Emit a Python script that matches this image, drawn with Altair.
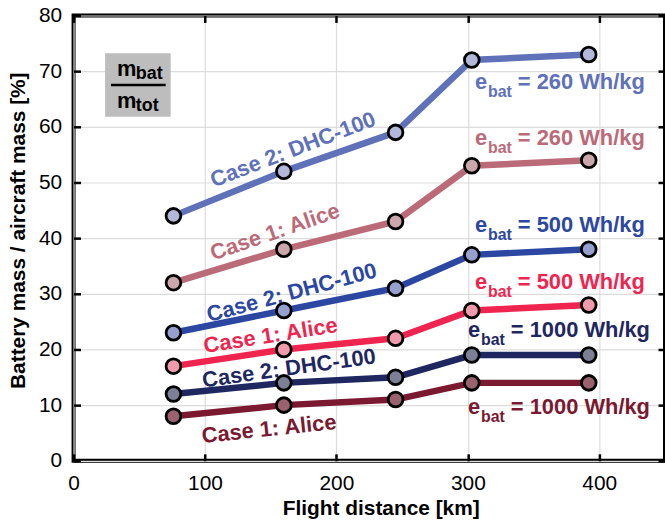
import altair as alt
import pandas as pd

# ---------------- data ----------------
distance_km = [76, 160, 245, 303, 392]

series_names = ["Case 2 260", "Case 1 260", "Case 2 500",
                "Case 1 500", "Case 2 1000", "Case 1 1000"]
case2_260 = [44, 52, 59, 72, 73]
case1_260 = [32, 38, 43, 53, 54]
case2_500 = [23, 27, 31, 37, 38]
case1_500 = [17, 20, 22, 27, 28]
case2_1000 = [12, 14, 15, 19, 19]
case1_1000 = [8, 10, 11, 14, 14]
series_values = [case2_260, case1_260, case2_500, case1_500, case2_1000, case1_1000]

line_colors = ["#5e71b9", "#bb6a78", "#2c47a2", "#ef2550", "#1f2760", "#7a1930"]
fill_colors = ["#b3b8da", "#cba6ab", "#95a0cf", "#f19aab", "#7b8097", "#9a626c"]

x_ticks = [0, 100, 200, 300, 400]
y_ticks = [0, 10, 20, 30, 40, 50, 60, 70, 80]

# case labels along the lines
case_text = ["Case 2: DHC-100", "Case 1: Alice", "Case 2: DHC-100",
             "Case 1: Alice", "Case 2: DHC-100", "Case 1: Alice"]
case_x = [166.9, 153.3, 166.0, 149.9, 163.9, 148.7]
case_y = [55.9, 41.1, 30.2, 22.5, 16.6, 5.7]
case_angle = [339, 341, 345, 351, 352, 354]

# energy-density labels on the right
ebat_text = ["= 260 Wh/kg", "= 260 Wh/kg", "= 500 Wh/kg",
             "= 500 Wh/kg", "= 1000 Wh/kg", "= 1000 Wh/kg"]
ebat_x = [305.5, 305.5, 305.5, 305.5, 300.2, 300.2]
ebat_y = [66.8, 56.8, 41.1, 30.9, 22.3, 8.4]

# fraction box annotation (data coordinates)
box_x = [24.0]
box_x2 = [73.9]
box_y = [73.2]
box_y2 = [61.8]
frac_x = [28.5]
frac_x2 = [70.1]
frac_y = [67.5]
m_x = [33.0, 33.0]
m_y = [69.1, 63.4]
m_sub = ["bat", "tot"]

FONT = "Liberation Sans"

# ---------------- tables ----------------
rows = []
for name, vals in zip(series_names, series_values):
    for d, v in zip(distance_km, vals):
        rows.append({"series": name, "distance": d, "share": v})
df = pd.DataFrame(rows)

case_df = pd.DataFrame({"text": case_text, "x": case_x, "y": case_y,
                        "angle": case_angle, "color": line_colors})
ebat_df = pd.DataFrame({"text": ebat_text, "x": ebat_x, "y": ebat_y,
                        "color": line_colors})
box_df = pd.DataFrame({"x": box_x, "x2": box_x2, "y": box_y, "y2": box_y2})
frac_df = pd.DataFrame({"x": frac_x, "x2": frac_x2, "y": frac_y})
m_df = pd.DataFrame({"x": m_x, "y": m_y, "sub": m_sub})

x_scale = alt.Scale(domain=[0, 450], nice=False, zero=False)
y_scale = alt.Scale(domain=[0, 80], nice=False, zero=False)

bottom_axis = alt.Axis(
    orient="bottom", values=x_ticks, offset=-7, domain=False,
    ticks=True, tickSize=7, tickWidth=2.5, tickColor="black",
    labelFont=FONT, labelFontSize=21, labelColor="black", labelPadding=12,
    labelFlush=False,
    title="Flight distance [km]", titleFont=FONT, titleFontSize=21,
    titleFontWeight="bold", titleColor="black", titlePadding=4, titleX=309,
    grid=True, gridColor="#dcdcdc", gridWidth=1.2,
)
left_axis = alt.Axis(
    orient="left", values=y_ticks, offset=-7, domain=False,
    ticks=True, tickSize=7, tickWidth=2.5, tickColor="black",
    labelFont=FONT, labelFontSize=21, labelColor="black", labelPadding=12,
    labelFlush=False,
    title="Battery mass / aircraft mass [%]", titleFont=FONT, titleFontSize=21,
    titleFontWeight="bold", titleColor="black", titlePadding=10, titleY=216,
    grid=True, gridColor="#dcdcdc", gridWidth=1.2,
)
top_axis = alt.Axis(
    orient="top", values=x_ticks, offset=-7, domain=False,
    ticks=True, tickSize=7, tickWidth=2.5, tickColor="black",
    labels=False, grid=False, title=None,
)
right_axis = alt.Axis(
    orient="right", values=y_ticks, offset=-7, domain=False,
    ticks=True, tickSize=7, tickWidth=2.5, tickColor="black",
    labels=False, grid=False, title=None,
)

lines = alt.Chart(df).mark_line(strokeWidth=6.5).encode(
    x=alt.X("distance:Q", scale=x_scale, axis=bottom_axis),
    y=alt.Y("share:Q", scale=y_scale, axis=left_axis),
    stroke=alt.Stroke("series:N", scale=alt.Scale(domain=series_names, range=line_colors),
                      legend=None),
)

points = alt.Chart(df).mark_circle(size=220, stroke="black", strokeWidth=2.8, opacity=1).encode(
    x=alt.X("distance:Q", scale=x_scale, axis=top_axis),
    y=alt.Y("share:Q", scale=y_scale, axis=right_axis),
    fill=alt.Fill("series:N", scale=alt.Scale(domain=series_names, range=fill_colors),
                  legend=None),
)

case_labels = alt.Chart(case_df).mark_text(
    font=FONT, fontSize=22, fontWeight="bold", align="center", baseline="middle"
).encode(
    x=alt.X("x:Q", scale=x_scale, axis=None),
    y=alt.Y("y:Q", scale=y_scale, axis=None),
    text="text:N",
    angle=alt.Angle("angle:Q", scale=None),
    color=alt.Color("color:N", scale=None),
)

def ebat_layer(text_value, dx, dy, size, use_field=False):
    enc = dict(
        x=alt.X("x:Q", scale=x_scale, axis=None),
        y=alt.Y("y:Q", scale=y_scale, axis=None),
        color=alt.Color("color:N", scale=None),
    )
    if use_field:
        enc["text"] = alt.Text("text:N")
    else:
        enc["text"] = alt.value(text_value)
    return alt.Chart(ebat_df).mark_text(
        font=FONT, fontSize=size, fontWeight="bold", align="left",
        baseline="alphabetic", dx=dx, dy=dy
    ).encode(**enc)

e_main = ebat_layer("e", 0, 0, 22)
e_sub = ebat_layer("bat", 13, 8, 16)
e_rest = ebat_layer("", 43, 0, 22, use_field=True)

box = alt.Chart(box_df).mark_rect(color="#bdbdbd").encode(
    x=alt.X("x:Q", scale=x_scale, axis=None),
    x2="x2:Q",
    y=alt.Y("y:Q", scale=y_scale, axis=None),
    y2="y2:Q",
)
frac = alt.Chart(frac_df).mark_rule(color="black", strokeWidth=2.5).encode(
    x=alt.X("x:Q", scale=x_scale, axis=None),
    x2="x2:Q",
    y=alt.Y("y:Q", scale=y_scale, axis=None),
)
m_text = alt.Chart(m_df).mark_text(
    font=FONT, fontSize=22, fontWeight="bold", align="left", baseline="alphabetic",
    color="black"
).encode(
    x=alt.X("x:Q", scale=x_scale, axis=None),
    y=alt.Y("y:Q", scale=y_scale, axis=None),
    text=alt.value("m"),
)
m_subtext = alt.Chart(m_df).mark_text(
    font=FONT, fontSize=18, fontWeight="bold", align="left", baseline="alphabetic",
    color="black", dx=19, dy=3
).encode(
    x=alt.X("x:Q", scale=x_scale, axis=None),
    y=alt.Y("y:Q", scale=y_scale, axis=None),
    text="sub:N",
)

chart = alt.layer(
    lines, points, case_labels, e_main, e_sub, e_rest, box, frac, m_text, m_subtext
).resolve_axis(
    x="independent", y="independent"
).properties(
    width=595, height=448,
    autosize=alt.AutoSizeParams(type="none"),
    padding={"left": 74, "top": 14, "right": 0, "bottom": 61},
    background="white",
).configure_view(
    stroke="black", strokeWidth=4
)

chart.save("out.html", embed_options={"renderer": "svg", "actions": False})
